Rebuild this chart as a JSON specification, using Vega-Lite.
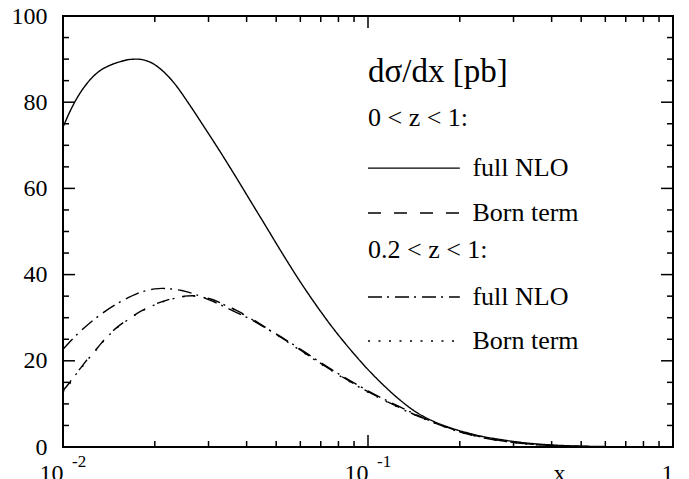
{
  "$schema": "https://vega.github.io/schema/vega-lite/v6.json",
  "width": 610,
  "height": 431,
  "autosize": {"type": "none"},
  "padding": {"left": 63, "top": 16, "right": 16, "bottom": 32},
  "background": "white",
  "config": {
    "view": {"stroke": "black", "strokeWidth": 2},
    "font": "Liberation Serif",
    "axis": {
      "grid": false,
      "domain": false,
      "ticks": false,
      "labelColor": "black",
      "labelFont": "Liberation Serif",
      "labelFontSize": 24,
      "titleFont": "Liberation Serif",
      "titleFontWeight": "normal",
      "titleColor": "black"
    }
  },
  "datasets": {
    "curves": [
      {"s": "nlo1", "x": 0.01, "y": 74.2}, {"s": "nlo1", "x": 0.0105, "y": 77.6}, {"s": "nlo1", "x": 0.011, "y": 80.4}, {"s": "nlo1", "x": 0.012, "y": 84.4}, {"s": "nlo1", "x": 0.0131, "y": 87.1}, {"s": "nlo1", "x": 0.0143, "y": 88.6}, {"s": "nlo1", "x": 0.0154, "y": 89.4}, {"s": "nlo1", "x": 0.0165, "y": 89.9}, {"s": "nlo1", "x": 0.0175, "y": 90.0}, {"s": "nlo1", "x": 0.0186, "y": 89.7}, {"s": "nlo1", "x": 0.0193, "y": 89.3}, {"s": "nlo1", "x": 0.0208, "y": 87.8}, {"s": "nlo1", "x": 0.0231, "y": 84.5}, {"s": "nlo1", "x": 0.026, "y": 79.4}, {"s": "nlo1", "x": 0.029, "y": 74.3}, {"s": "nlo1", "x": 0.0327, "y": 68.6}, {"s": "nlo1", "x": 0.037, "y": 62.5}, {"s": "nlo1", "x": 0.041, "y": 57.3}, {"s": "nlo1", "x": 0.046, "y": 51.5}, {"s": "nlo1", "x": 0.0526, "y": 44.7}, {"s": "nlo1", "x": 0.06, "y": 38.3}, {"s": "nlo1", "x": 0.0681, "y": 32.6}, {"s": "nlo1", "x": 0.0775, "y": 27.2}, {"s": "nlo1", "x": 0.0873, "y": 22.7}, {"s": "nlo1", "x": 0.099, "y": 18.3}, {"s": "nlo1", "x": 0.1122, "y": 14.4}, {"s": "nlo1", "x": 0.1273, "y": 10.9}, {"s": "nlo1", "x": 0.1445, "y": 8.0}, {"s": "nlo1", "x": 0.1634, "y": 6.0}, {"s": "nlo1", "x": 0.1854, "y": 4.5}, {"s": "nlo1", "x": 0.2112, "y": 3.3}, {"s": "nlo1", "x": 0.2371, "y": 2.45}, {"s": "nlo1", "x": 0.2709, "y": 1.75}, {"s": "nlo1", "x": 0.31, "y": 1.15}, {"s": "nlo1", "x": 0.3475, "y": 0.78}, {"s": "nlo1", "x": 0.4, "y": 0.47}, {"s": "nlo1", "x": 0.45, "y": 0.3}, {"s": "nlo1", "x": 0.5, "y": 0.2}, {"s": "nlo1", "x": 0.58, "y": 0.11}, {"s": "nlo1", "x": 0.7, "y": 0.05}, {"s": "nlo1", "x": 0.85, "y": 0.02}, {"s": "nlo1", "x": 1, "y": 0.0},

      {"s": "born1", "x": 0.01, "y": 13.1}, {"s": "born1", "x": 0.0105, "y": 14.9}, {"s": "born1", "x": 0.0108, "y": 16.2}, {"s": "born1", "x": 0.0115, "y": 18.6}, {"s": "born1", "x": 0.0121, "y": 20.6}, {"s": "born1", "x": 0.013, "y": 23.1}, {"s": "born1", "x": 0.0137, "y": 25.0}, {"s": "born1", "x": 0.015, "y": 27.7}, {"s": "born1", "x": 0.016, "y": 29.2}, {"s": "born1", "x": 0.0175, "y": 31.0}, {"s": "born1", "x": 0.0188, "y": 32.2}, {"s": "born1", "x": 0.02, "y": 33.1}, {"s": "born1", "x": 0.0224, "y": 34.3}, {"s": "born1", "x": 0.025, "y": 35.0}, {"s": "born1", "x": 0.0265, "y": 35.1}, {"s": "born1", "x": 0.028, "y": 35.0}, {"s": "born1", "x": 0.0303, "y": 34.4}, {"s": "born1", "x": 0.033, "y": 33.4}, {"s": "born1", "x": 0.0361, "y": 32.1}, {"s": "born1", "x": 0.041, "y": 30.0}, {"s": "born1", "x": 0.046, "y": 27.8}, {"s": "born1", "x": 0.0528, "y": 25.1}, {"s": "born1", "x": 0.06, "y": 22.5}, {"s": "born1", "x": 0.0679, "y": 20.0}, {"s": "born1", "x": 0.0775, "y": 17.4}, {"s": "born1", "x": 0.0873, "y": 15.2}, {"s": "born1", "x": 0.099, "y": 13.0}, {"s": "born1", "x": 0.1122, "y": 11.0}, {"s": "born1", "x": 0.1273, "y": 9.1}, {"s": "born1", "x": 0.145, "y": 7.25}, {"s": "born1", "x": 0.1634, "y": 5.72}, {"s": "born1", "x": 0.19, "y": 4.03}, {"s": "born1", "x": 0.2112, "y": 3.03}, {"s": "born1", "x": 0.24, "y": 2.13}, {"s": "born1", "x": 0.2709, "y": 1.48}, {"s": "born1", "x": 0.31, "y": 0.94}, {"s": "born1", "x": 0.3475, "y": 0.6}, {"s": "born1", "x": 0.4, "y": 0.34}, {"s": "born1", "x": 0.45, "y": 0.2}, {"s": "born1", "x": 0.5, "y": 0.12}, {"s": "born1", "x": 0.58, "y": 0.06}, {"s": "born1", "x": 0.7, "y": 0.025}, {"s": "born1", "x": 0.85, "y": 0.008}, {"s": "born1", "x": 1, "y": 0.0},

      {"s": "nlo2", "x": 0.01, "y": 22.7}, {"s": "nlo2", "x": 0.0105, "y": 24.3}, {"s": "nlo2", "x": 0.011, "y": 25.8}, {"s": "nlo2", "x": 0.0118, "y": 27.8}, {"s": "nlo2", "x": 0.0126, "y": 29.5}, {"s": "nlo2", "x": 0.0137, "y": 31.4}, {"s": "nlo2", "x": 0.015, "y": 33.2}, {"s": "nlo2", "x": 0.016, "y": 34.3}, {"s": "nlo2", "x": 0.0175, "y": 35.6}, {"s": "nlo2", "x": 0.0188, "y": 36.3}, {"s": "nlo2", "x": 0.02, "y": 36.7}, {"s": "nlo2", "x": 0.0211, "y": 36.8}, {"s": "nlo2", "x": 0.0224, "y": 36.7}, {"s": "nlo2", "x": 0.0245, "y": 36.3}, {"s": "nlo2", "x": 0.0274, "y": 35.3}, {"s": "nlo2", "x": 0.0303, "y": 34.1}, {"s": "nlo2", "x": 0.033, "y": 32.9}, {"s": "nlo2", "x": 0.0361, "y": 31.6}, {"s": "nlo2", "x": 0.041, "y": 29.7}, {"s": "nlo2", "x": 0.046, "y": 27.7}, {"s": "nlo2", "x": 0.0528, "y": 25.2}, {"s": "nlo2", "x": 0.06, "y": 22.7}, {"s": "nlo2", "x": 0.0679, "y": 20.2}, {"s": "nlo2", "x": 0.0775, "y": 17.6}, {"s": "nlo2", "x": 0.0873, "y": 15.4}, {"s": "nlo2", "x": 0.099, "y": 13.2}, {"s": "nlo2", "x": 0.1122, "y": 11.2}, {"s": "nlo2", "x": 0.1273, "y": 9.3}, {"s": "nlo2", "x": 0.145, "y": 7.4}, {"s": "nlo2", "x": 0.1634, "y": 5.8}, {"s": "nlo2", "x": 0.19, "y": 4.1}, {"s": "nlo2", "x": 0.2112, "y": 3.1}, {"s": "nlo2", "x": 0.24, "y": 2.2}, {"s": "nlo2", "x": 0.2709, "y": 1.52}, {"s": "nlo2", "x": 0.31, "y": 0.97}, {"s": "nlo2", "x": 0.3475, "y": 0.62}, {"s": "nlo2", "x": 0.4, "y": 0.36}, {"s": "nlo2", "x": 0.45, "y": 0.21}, {"s": "nlo2", "x": 0.5, "y": 0.13}, {"s": "nlo2", "x": 0.58, "y": 0.07}, {"s": "nlo2", "x": 0.7, "y": 0.03}, {"s": "nlo2", "x": 0.85, "y": 0.01}, {"s": "nlo2", "x": 1, "y": 0.0},

      {"s": "born2", "x": 0.01, "y": 12.8}, {"s": "born2", "x": 0.0105, "y": 14.6}, {"s": "born2", "x": 0.0108, "y": 16.0}, {"s": "born2", "x": 0.0115, "y": 18.4}, {"s": "born2", "x": 0.0121, "y": 20.4}, {"s": "born2", "x": 0.013, "y": 22.9}, {"s": "born2", "x": 0.0137, "y": 24.9}, {"s": "born2", "x": 0.015, "y": 27.6}, {"s": "born2", "x": 0.016, "y": 29.1}, {"s": "born2", "x": 0.0175, "y": 30.9}, {"s": "born2", "x": 0.0188, "y": 32.1}, {"s": "born2", "x": 0.02, "y": 33.0}, {"s": "born2", "x": 0.0224, "y": 34.2}, {"s": "born2", "x": 0.025, "y": 34.9}, {"s": "born2", "x": 0.0265, "y": 35.0}, {"s": "born2", "x": 0.028, "y": 34.9}, {"s": "born2", "x": 0.0303, "y": 34.3}, {"s": "born2", "x": 0.033, "y": 33.3}, {"s": "born2", "x": 0.0361, "y": 32.0}, {"s": "born2", "x": 0.041, "y": 29.9}, {"s": "born2", "x": 0.046, "y": 27.7}, {"s": "born2", "x": 0.0528, "y": 25.0}, {"s": "born2", "x": 0.06, "y": 22.4}, {"s": "born2", "x": 0.0679, "y": 19.9}, {"s": "born2", "x": 0.0775, "y": 17.3}, {"s": "born2", "x": 0.0873, "y": 15.1}, {"s": "born2", "x": 0.099, "y": 12.9}, {"s": "born2", "x": 0.1122, "y": 10.9}, {"s": "born2", "x": 0.1273, "y": 9.0}, {"s": "born2", "x": 0.145, "y": 7.2}, {"s": "born2", "x": 0.1634, "y": 5.7}, {"s": "born2", "x": 0.19, "y": 4.0}, {"s": "born2", "x": 0.2112, "y": 3.0}, {"s": "born2", "x": 0.24, "y": 2.1}, {"s": "born2", "x": 0.2709, "y": 1.45}, {"s": "born2", "x": 0.31, "y": 0.92}, {"s": "born2", "x": 0.3475, "y": 0.58}, {"s": "born2", "x": 0.4, "y": 0.33}, {"s": "born2", "x": 0.45, "y": 0.19}, {"s": "born2", "x": 0.5, "y": 0.12}, {"s": "born2", "x": 0.58, "y": 0.06}, {"s": "born2", "x": 0.7, "y": 0.025}, {"s": "born2", "x": 0.85, "y": 0.008}, {"s": "born2", "x": 1, "y": 0.0}
    ],
    "keylines": [
      {"s": "nlo1", "x": 0.1, "y": 64.7}, {"s": "nlo1", "x": 0.2, "y": 64.7},
      {"s": "born1", "x": 0.1, "y": 54.3}, {"s": "born1", "x": 0.2, "y": 54.3},
      {"s": "nlo2", "x": 0.1, "y": 34.8}, {"s": "nlo2", "x": 0.2, "y": 34.8},
      {"s": "born2", "x": 0.1, "y": 24.6}, {"s": "born2", "x": 0.2, "y": 24.6}
    ],
    "keytext": [
      {"kind": "title", "x": 0.1, "y": 87, "t": "dσ/dx [pb]"},
      {"kind": "item", "x": 0.1, "y": 76.3, "t": "0 < z < 1:"},
      {"kind": "item", "x": 0.22, "y": 64.7, "t": "full NLO"},
      {"kind": "item", "x": 0.22, "y": 54.3, "t": "Born term"},
      {"kind": "item", "x": 0.1, "y": 45.7, "t": "0.2 < z < 1:"},
      {"kind": "item", "x": 0.22, "y": 34.8, "t": "full NLO"},
      {"kind": "item", "x": 0.22, "y": 24.6, "t": "Born term"}
    ],
    "sups": [
      {"x": 0.01, "t": "-2"},
      {"x": 0.1, "t": "-1"}
    ],
    "xticks": [
      {"x": 0.01, "k": "major"}, {"x": 0.02, "k": "minor"}, {"x": 0.03, "k": "minor"}, {"x": 0.04, "k": "minor"}, {"x": 0.05, "k": "minor"}, {"x": 0.06, "k": "minor"}, {"x": 0.07, "k": "minor"}, {"x": 0.08, "k": "minor"}, {"x": 0.09, "k": "minor"},
      {"x": 0.1, "k": "major"}, {"x": 0.2, "k": "minor"}, {"x": 0.3, "k": "minor"}, {"x": 0.4, "k": "minor"}, {"x": 0.5, "k": "minor"}, {"x": 0.6, "k": "minor"}, {"x": 0.7, "k": "minor"}, {"x": 0.8, "k": "minor"}, {"x": 0.9, "k": "minor"},
      {"x": 1, "k": "major"}
    ],
    "yticks": [
      {"y": 0, "k": "major"}, {"y": 5, "k": "minor"}, {"y": 10, "k": "minor"}, {"y": 15, "k": "minor"},
      {"y": 20, "k": "major"}, {"y": 25, "k": "minor"}, {"y": 30, "k": "minor"}, {"y": 35, "k": "minor"},
      {"y": 40, "k": "major"}, {"y": 45, "k": "minor"}, {"y": 50, "k": "minor"}, {"y": 55, "k": "minor"},
      {"y": 60, "k": "major"}, {"y": 65, "k": "minor"}, {"y": 70, "k": "minor"}, {"y": 75, "k": "minor"},
      {"y": 80, "k": "major"}, {"y": 85, "k": "minor"}, {"y": 90, "k": "minor"}, {"y": 95, "k": "minor"},
      {"y": 100, "k": "major"}
    ]
  },
  "layer": [
    {
      "data": {"name": "xticks"},
      "transform": [{"filter": "datum.k === 'major'"}],
      "mark": {"type": "rule", "strokeWidth": 1.5, "color": "black"},
      "encoding": {
        "x": {"field": "x", "type": "quantitative"},
        "y": {"datum": 0, "type": "quantitative"},
        "y2": {"datum": 2.78}
      }
    },
    {
      "data": {"name": "xticks"},
      "transform": [{"filter": "datum.k === 'minor'"}],
      "mark": {"type": "rule", "strokeWidth": 1.5, "color": "black"},
      "encoding": {
        "x": {"field": "x", "type": "quantitative"},
        "y": {"datum": 0, "type": "quantitative"},
        "y2": {"datum": 1.39}
      }
    },
    {
      "data": {"name": "xticks"},
      "transform": [{"filter": "datum.k === 'major'"}],
      "mark": {"type": "rule", "strokeWidth": 1.5, "color": "black"},
      "encoding": {
        "x": {"field": "x", "type": "quantitative"},
        "y": {"datum": 100, "type": "quantitative"},
        "y2": {"datum": 97.22}
      }
    },
    {
      "data": {"name": "xticks"},
      "transform": [{"filter": "datum.k === 'minor'"}],
      "mark": {"type": "rule", "strokeWidth": 1.5, "color": "black"},
      "encoding": {
        "x": {"field": "x", "type": "quantitative"},
        "y": {"datum": 100, "type": "quantitative"},
        "y2": {"datum": 98.61}
      }
    },
    {
      "data": {"name": "yticks"},
      "transform": [{"filter": "datum.k === 'major'"}],
      "mark": {"type": "rule", "strokeWidth": 1.5, "color": "black"},
      "encoding": {
        "y": {"field": "y", "type": "quantitative"},
        "x": {"datum": 0.01, "type": "quantitative"},
        "x2": {"datum": 0.010948}
      }
    },
    {
      "data": {"name": "yticks"},
      "transform": [{"filter": "datum.k === 'minor'"}],
      "mark": {"type": "rule", "strokeWidth": 1.5, "color": "black"},
      "encoding": {
        "y": {"field": "y", "type": "quantitative"},
        "x": {"datum": 0.01, "type": "quantitative"},
        "x2": {"datum": 0.010463}
      }
    },
    {
      "data": {"name": "yticks"},
      "transform": [{"filter": "datum.k === 'major'"}],
      "mark": {"type": "rule", "strokeWidth": 1.5, "color": "black"},
      "encoding": {
        "y": {"field": "y", "type": "quantitative"},
        "x": {"datum": 1, "type": "quantitative"},
        "x2": {"datum": 0.9134}
      }
    },
    {
      "data": {"name": "yticks"},
      "transform": [{"filter": "datum.k === 'minor'"}],
      "mark": {"type": "rule", "strokeWidth": 1.5, "color": "black"},
      "encoding": {
        "y": {"field": "y", "type": "quantitative"},
        "x": {"datum": 1, "type": "quantitative"},
        "x2": {"datum": 0.9557}
      }
    },
    {
      "data": {"name": "curves"},
      "mark": {"type": "line", "strokeWidth": 1.4, "color": "black", "interpolate": "monotone"},
      "encoding": {
        "x": {
          "field": "x", "type": "quantitative",
          "scale": {"type": "log", "domain": [0.01, 1], "nice": false},
          "axis": {
            "orient": "bottom",
            "values": [0.01, 0.1, 1],
            "ticks": false,
            "domain": false,
            "labelExpr": "datum.value === 1 ? '1' : '10'",
            "labelAlign": "right",
            "labelDx": 5,
            "labelBaseline": "alphabetic",
            "labelPadding": 33,
            "labelOverlap": false,
            "labelFlush": false,
            "labelBound": false,
            "title": "x",
            "titleFontSize": 24,
            "titleX": 496,
            "titleY": 33,
            "titleAlign": "center",
            "titleBaseline": "alphabetic"
          }
        },
        "y": {
          "field": "y", "type": "quantitative",
          "scale": {"domain": [0, 100], "nice": false, "zero": false},
          "axis": {
            "orient": "left",
            "values": [0, 20, 40, 60, 80, 100],
            "ticks": false,
            "domain": false,
            "labelPadding": 16,
            "labelBaseline": "middle",
            "labelOverlap": false,
            "labelFlush": false,
            "title": null
          }
        },
        "strokeDash": {
          "field": "s", "type": "nominal",
          "scale": {"domain": ["nlo1", "born1", "nlo2", "born2"], "range": [[1, 0], [13, 13], [14, 5, 2, 6], [2, 8.5]]},
          "legend": null
        }
      }
    },
    {
      "data": {"name": "keylines"},
      "mark": {"type": "line", "strokeWidth": 1.4, "color": "black"},
      "encoding": {
        "x": {"field": "x", "type": "quantitative"},
        "y": {"field": "y", "type": "quantitative"},
        "strokeDash": {"field": "s", "type": "nominal", "legend": null}
      }
    },
    {
      "data": {"name": "keytext"},
      "transform": [{"filter": "datum.kind === 'title'"}],
      "mark": {"type": "text", "align": "left", "baseline": "middle", "fontSize": 33, "font": "Liberation Serif", "color": "black"},
      "encoding": {
        "x": {"field": "x", "type": "quantitative"},
        "y": {"field": "y", "type": "quantitative"},
        "text": {"field": "t"}
      }
    },
    {
      "data": {"name": "keytext"},
      "transform": [{"filter": "datum.kind === 'item'"}],
      "mark": {"type": "text", "align": "left", "baseline": "middle", "fontSize": 26, "font": "Liberation Serif", "color": "black"},
      "encoding": {
        "x": {"field": "x", "type": "quantitative"},
        "y": {"field": "y", "type": "quantitative"},
        "text": {"field": "t"}
      }
    },
    {
      "data": {"name": "sups"},
      "mark": {"type": "text", "align": "left", "baseline": "alphabetic", "dx": 9, "dy": 20, "fontSize": 17, "font": "Liberation Serif", "color": "black"},
      "encoding": {
        "x": {"field": "x", "type": "quantitative"},
        "y": {"datum": 0, "type": "quantitative"},
        "text": {"field": "t"}
      }
    }
  ]
}
